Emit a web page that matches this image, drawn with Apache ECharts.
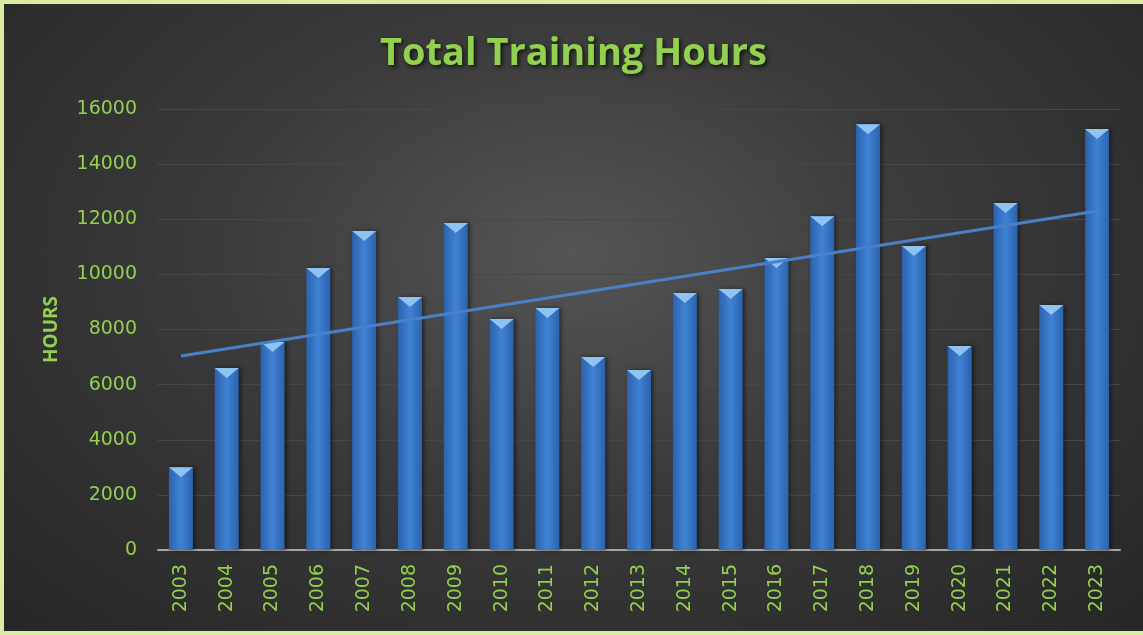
<!DOCTYPE html>
<html>
<head>
<meta charset="utf-8">
<script src="https://cdn.jsdelivr.net/npm/echarts@6/dist/echarts.min.js"></script>
<style>
    html, body { margin: 0; padding: 0; }
    body { width: 1143px; height: 635px; background: #d9eca2; overflow: hidden; position: relative; }
    #chart {
        position: absolute; left: 4px; top: 4px; width: 1139px; height: 627px;
        background: radial-gradient(ellipse at 50% 40%, #555555 0%, #3a3a3a 45%, #262626 100%);
    }
</style>
</head>
<body>
<div id="chart"></div>
<script>
var years = ["2003", "2004", "2005", "2006", "2007", "2008", "2009", "2010", "2011", "2012", "2013",
    "2014", "2015", "2016", "2017", "2018", "2019", "2020", "2021", "2022", "2023"];
var hours = [3000, 6600, 7550, 10230, 11570, 9180, 11860, 8380, 8780, 7000, 6530,
    9320, 9470, 10590, 12110, 15450, 11030, 7400, 12590, 8890, 15270];
// trend line ends
var trendStart = 7040;
var trendEnd = 12300;
var yTicks = [0, 2000, 4000, 6000, 8000, 10000, 12000, 14000, 16000];

(function () {
    var green = "#92d050";
    var trend = [];
    for (var i = 0; i < years.length; i++) {
        trend[i] = null;
    }
    trend[0] = trendStart;
    trend[years.length - 1] = trendEnd;

    var chart = echarts.init(document.getElementById("chart"));
    var options = {
        animation: false,
        title: {
            text: "Total Training Hours",
            left: "center",
            top: 26,
            textStyle: {
                color: green,
                fontFamily: "Open Sans",
                fontWeight: "bold",
                fontSize: 38,
                textShadowColor: "rgba(0,0,0,0.7)",
                textShadowBlur: 4,
                textShadowOffsetX: 2,
                textShadowOffsetY: 2
            }
        },
        grid: {
            left: 154,
            right: 23,
            top: 105,
            bottom: 81,
            containLabel: false
        },
        xAxis: {
            type: "category",
            data: years,
            axisTick: { show: false },
            axisLine: { lineStyle: { color: "#a6a6a6", width: 2 } },
            axisLabel: {
                rotate: 90,
                color: green,
                fontSize: 19,
                fontFamily: "DejaVu Sans",
                margin: 14,
                interval: 0
            }
        },
        yAxis: {
            type: "value",
            min: yTicks[0],
            max: yTicks[yTicks.length - 1],
            interval: 2000,
            name: "HOURS",
            nameLocation: "middle",
            nameGap: 97,
            nameRotate: 90,
            nameTextStyle: {
                color: green,
                fontWeight: "bold",
                fontSize: 19,
                fontFamily: "Open Sans"
            },
            axisLine: { show: false },
            axisTick: { show: false },
            axisLabel: {
                color: green,
                fontSize: 19,
                fontFamily: "DejaVu Sans",
                margin: 21,
                formatter: function (val) {
                    return String(val);
                }
            },
            splitLine: { lineStyle: { color: "#474747", width: 1 } }
        },
        series: [
            {
                name: "Hours",
                type: "bar",
                data: hours,
                barWidth: 24,
                itemStyle: {
                    color: new echarts.graphic.LinearGradient(0, 0, 1, 0, [
                        { offset: 0, color: "#2c62ad" },
                        { offset: 0.5, color: "#3f82d4" },
                        { offset: 1, color: "#2c62ad" }
                    ]),
                    shadowColor: "rgba(0,0,0,0.5)",
                    shadowBlur: 4,
                    shadowOffsetX: 2
                },
                z: 2
            },
            {
                // light bevel at bar top
                name: "bevel",
                type: "pictorialBar",
                data: hours,
                symbol: "triangle",
                symbolRotate: 180,
                symbolSize: [24, 10],
                symbolPosition: "end",
                symbolOffset: [0, 0],
                itemStyle: { color: "#8fc3f2" },
                z: 3
            },
            {
                name: "Trend",
                type: "line",
                data: trend,
                connectNulls: true,
                symbol: "none",
                lineStyle: { color: "#4a80c8", width: 3 },
                z: 4
            }
        ]
    };
    chart.setOption(options, true);
})();
</script>
</body>
</html>
